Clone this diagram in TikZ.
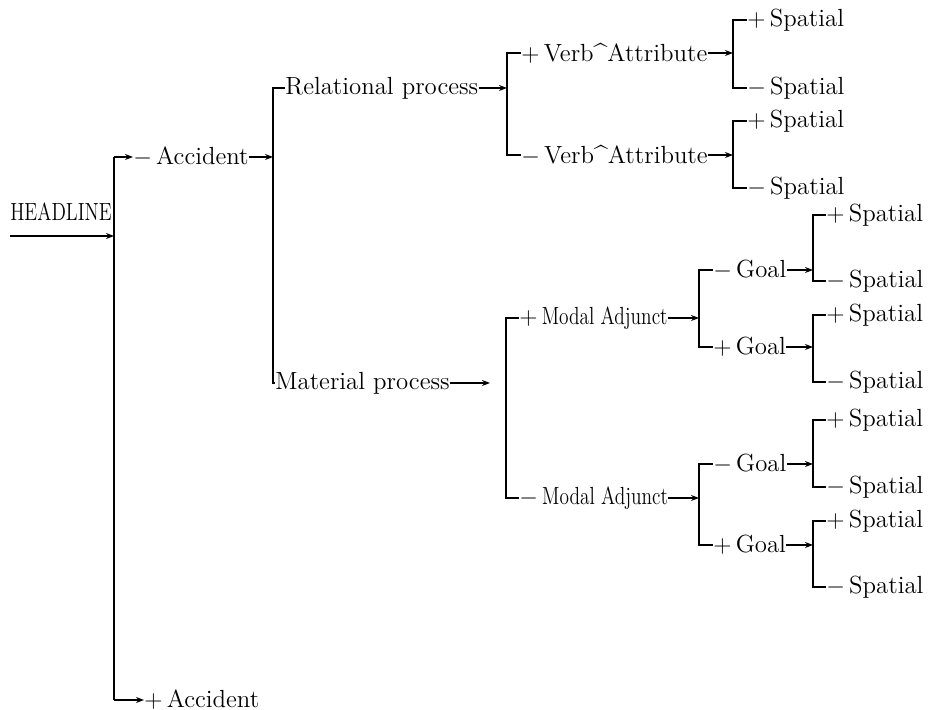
\documentclass[tikz,border=0pt]{standalone}
\usepackage{graphicx}
\usetikzlibrary{arrows.meta}

\newcommand\psign{$+$\,}
\newcommand\msign{$-$\,}
\newcommand\narrow[1]{\scalebox{0.78}[1]{#1}}

\begin{document}
\begin{tikzpicture}[
    x=0.5pt, y=-0.5pt,
    font=\fontsize{12.4}{14}\selectfont,
    lab/.style={anchor=west, inner sep=0pt},
    line/.style={line width=0.6pt},
    flow/.style={line, -{Stealth[length=4pt,width=3pt]}},
  ]
  \useasboundingbox (0,0) rectangle (928,710);

  % --- Headline -----------------------------------------------------------
  \node (head) at (61,212) {\narrow{HEADLINE}};
  \coordinate (hin)   at (10,236);
  \coordinate (jhead) at (114,236);
  \coordinate (htop)  at (114,157);
  \coordinate (hbot)  at (114,700);

  \node[lab] (accm) at (133,157) {\msign Accident};
  \node[lab] (accp) at (144,700) {\psign Accident};

  \draw[flow] (hin) -- (jhead);
  \draw[line] (htop) -- (hbot);
  \draw[flow] (htop) -- (accm.west);
  \draw[flow] (hbot) -- (accp.west);

  % --- Process type -------------------------------------------------------
  \coordinate (jacc) at (273,157);
  \node[lab] (relp) at (285,88)  {Relational process};
  \node[lab] (matp) at (275,383) {Material process};

  \draw[flow] (accm.east) -- (jacc);
  \draw[line] (relp.west) -| (jacc) |- (matp.west);

  % --- Relational branch --------------------------------------------------
  \coordinate (jrel) at (507,88);
  \node[lab] (vap) at (521,53)  {\psign Verb\^{}Attribute};
  \node[lab] (vam) at (521,155) {\msign Verb\^{}Attribute};

  \draw[flow] (relp.east) -- (jrel);
  \draw[line] (vap.west) -| (jrel) |- (vam.west);

  % --- Material branch ----------------------------------------------------
  \coordinate (jmat) at (506,383);
  \coordinate (mtip) at (490,383);
  \node[lab] (map) at (519,318) {\psign\narrow{Modal Adjunct}};
  \node[lab] (mam) at (519,498) {\msign\narrow{Modal Adjunct}};

  \draw[flow] (matp.east) -- (mtip);
  \draw[line] (map.west) -| (jmat) |- (mam.west);

  \coordinate (jmap) at (699,318);
  \coordinate (jmam) at (699,498);
  \node[lab] (ga) at (713,270) {\msign Goal};
  \node[lab] (gb) at (713,347) {\psign Goal};
  \node[lab] (gc) at (713,464) {\msign Goal};
  \node[lab] (gd) at (713,545) {\psign Goal};

  \draw[flow] (map.east) -- (jmap);
  \draw[flow] (mam.east) -- (jmam);
  \draw[line] (ga.west) -| (jmap) |- (gb.west);
  \draw[line] (gc.west) -| (jmam) |- (gd.west);

  % --- Spatial leaves -----------------------------------------------------
  \coordinate (jvap) at (733,53);
  \coordinate (jvam) at (733,155);
  \coordinate (jga)  at (813,270);
  \coordinate (jgb)  at (813,347);
  \coordinate (jgc)  at (813,464);
  \coordinate (jgd)  at (813,545);

  \foreach \n in {vap, vam, ga, gb, gc, gd}
    \draw[flow] (\n.east) -- (j\n);

  \foreach \j/\x/\ya/\yb in {vap/747/20/88, vam/747/121/188,
                             ga/826/215/281, gb/826/315/382,
                             gc/826/420/487, gd/826/521/587} {
    \node[lab] (\j-p) at (\x,\ya) {\psign Spatial};
    \node[lab] (\j-m) at (\x,\yb) {\msign Spatial};
    \draw[line] (\j-p.west) -| (j\j) |- (\j-m.west);
  }

\end{tikzpicture}
\end{document}
